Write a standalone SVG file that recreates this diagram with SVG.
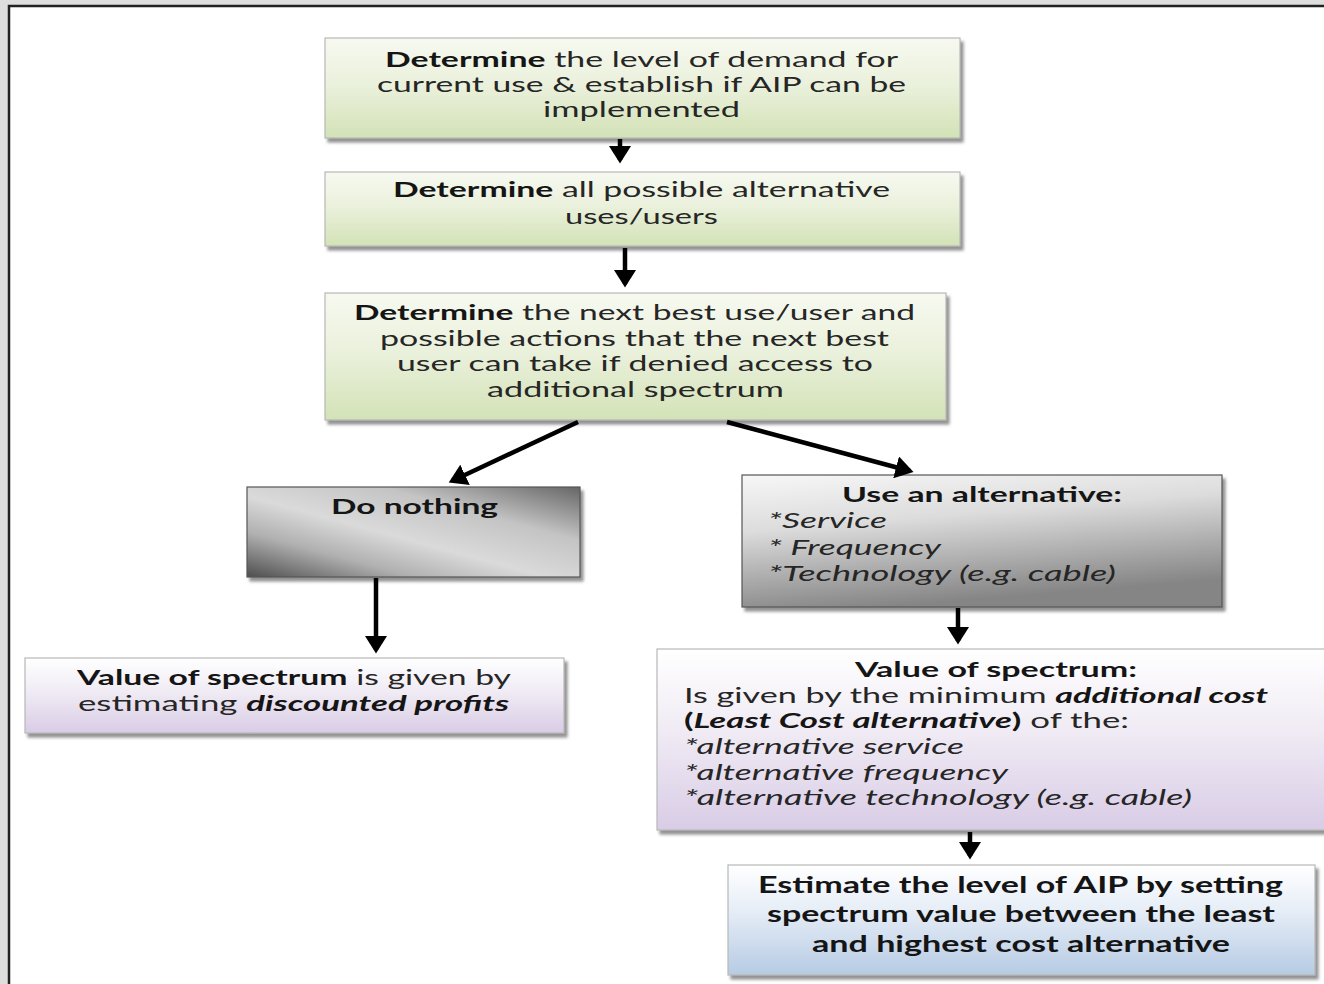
<svg xmlns="http://www.w3.org/2000/svg" width="1324" height="984" viewBox="0 0 1324 984">
<style>
text{font-family:Lato,"Open Sans","Liberation Sans",sans-serif;font-size:21px;fill:#262626;}
.c{text-anchor:middle;}
.b{font-weight:bold;fill:#151515;}
.i{font-style:italic;}
.box{stroke:#b8b8b8;stroke-width:1.2;filter:url(#sh);}
.gbox{stroke:#555;stroke-width:1.2;filter:url(#sh);}
.conn line{stroke:#000;stroke-width:4.5;marker-end:url(#ah);}
</style>
<defs>
<filter id="sh" x="-5%" y="-10%" width="115%" height="130%">
<feDropShadow dx="3" dy="4" stdDeviation="1.5" flood-color="#777" flood-opacity="0.8"/>
</filter>
<linearGradient id="green" x1="0" y1="0" x2="0" y2="1">
<stop offset="0" stop-color="#f7f9f0"/>
<stop offset="0.5" stop-color="#e9f0da"/>
<stop offset="1" stop-color="#d3e2b6"/>
</linearGradient>
<linearGradient id="lav" x1="0" y1="0" x2="0" y2="1">
<stop offset="0" stop-color="#ffffff"/>
<stop offset="0.45" stop-color="#f0ebf4"/>
<stop offset="1" stop-color="#d9cce6"/>
</linearGradient>
<linearGradient id="blue" x1="0" y1="0" x2="0" y2="1">
<stop offset="0" stop-color="#ffffff"/>
<stop offset="0.4" stop-color="#e7eef7"/>
<stop offset="1" stop-color="#b6cbe4"/>
</linearGradient>
<linearGradient id="gray1" x1="1" y1="0" x2="0" y2="1">
<stop offset="0" stop-color="#666"/>
<stop offset="0.3" stop-color="#c4c4c4"/>
<stop offset="0.55" stop-color="#dadada"/>
<stop offset="0.75" stop-color="#b0b0b0"/>
<stop offset="1" stop-color="#4e4e4e"/>
</linearGradient>
<linearGradient id="gray2" x1="0" y1="0" x2="0.3" y2="1">
<stop offset="0" stop-color="#f7f7f7"/>
<stop offset="0.4" stop-color="#dcdcdc"/>
<stop offset="0.75" stop-color="#a9a9a9"/>
<stop offset="1" stop-color="#858585"/>
</linearGradient>
<marker id="ah" markerWidth="5" markerHeight="5" refX="3.2" refY="2.5" orient="auto" markerUnits="strokeWidth">
<path d="M0,0 L4,2.5 L0,5 Z" fill="#000"/>
</marker>
</defs>

<rect x="0" y="0" width="1324" height="984" fill="#dedede"/>
<rect x="9" y="6" width="1320" height="985" fill="#fff" stroke="#222" stroke-width="2.5"/>

<g id="n1">
<rect class="box" x="325" y="38" width="635" height="100" fill="url(#green)"/>
<text class="c" x="641.5" y="67" textLength="513" lengthAdjust="spacingAndGlyphs"><tspan class="b">Determine</tspan> the level of demand for</text>
<text class="c" x="641.5" y="92" textLength="529" lengthAdjust="spacingAndGlyphs">current use &amp; establish if AIP can be</text>
<text class="c" x="641.5" y="117" textLength="197" lengthAdjust="spacingAndGlyphs">implemented</text>
</g>

<g id="n2">
<rect class="box" x="325" y="172" width="635" height="74" fill="url(#green)"/>
<text class="c" x="641.5" y="197" textLength="497" lengthAdjust="spacingAndGlyphs"><tspan class="b">Determine</tspan> all possible alternative</text>
<text class="c" x="641.5" y="224" textLength="153" lengthAdjust="spacingAndGlyphs">uses/users</text>
</g>

<g id="n3">
<rect class="box" x="325" y="293" width="621" height="127" fill="url(#green)"/>
<text class="c" x="634.5" y="320" textLength="561" lengthAdjust="spacingAndGlyphs"><tspan class="b">Determine</tspan> the next best use/user and</text>
<text class="c" x="634.5" y="346" textLength="509" lengthAdjust="spacingAndGlyphs">possible actions that the next best</text>
<text class="c" x="635" y="371" textLength="476" lengthAdjust="spacingAndGlyphs">user can take if denied access to</text>
<text class="c" x="635.5" y="397" textLength="297" lengthAdjust="spacingAndGlyphs">additional spectrum</text>
</g>

<g id="n4">
<rect class="gbox" x="247" y="487" width="333" height="90" fill="url(#gray1)"/>
<text class="c b" x="414.5" y="514" textLength="167" lengthAdjust="spacingAndGlyphs">Do nothing</text>
</g>

<g id="n5">
<rect class="gbox" x="742" y="475" width="480" height="132" fill="url(#gray2)"/>
<text class="c b" x="982" y="502" textLength="280" lengthAdjust="spacingAndGlyphs">Use an alternative:</text>
<text class="i" x="768" y="528" textLength="119" lengthAdjust="spacingAndGlyphs">*Service</text>
<text class="i" x="768" y="555" textLength="173" lengthAdjust="spacingAndGlyphs">* Frequency</text>
<text class="i" x="768" y="581" textLength="348" lengthAdjust="spacingAndGlyphs">*Technology (e.g. cable)</text>
</g>

<g id="n6">
<rect class="box" x="25" y="658" width="539" height="75" fill="url(#lav)"/>
<text class="c" x="294" y="685" textLength="434" lengthAdjust="spacingAndGlyphs"><tspan class="b">Value of spectrum</tspan> is given by</text>
<text class="c" x="293.5" y="711" textLength="431" lengthAdjust="spacingAndGlyphs">estimating <tspan class="b i">discounted profits</tspan></text>
</g>

<g id="n7">
<rect class="box" x="657" y="649" width="680" height="181" fill="url(#lav)"/>
<text class="c b" x="996" y="677" textLength="282" lengthAdjust="spacingAndGlyphs">Value of spectrum:</text>
<text x="684" y="703" textLength="584" lengthAdjust="spacingAndGlyphs">Is given by the minimum <tspan class="b i">additional cost</tspan></text>
<text x="684" y="728" textLength="445" lengthAdjust="spacingAndGlyphs"><tspan class="b">(</tspan><tspan class="b i">Least Cost alternative</tspan><tspan class="b">)</tspan> of the:</text>
<text class="i" x="684" y="754" textLength="280" lengthAdjust="spacingAndGlyphs">*alternative service</text>
<text class="i" x="684" y="780" textLength="324" lengthAdjust="spacingAndGlyphs">*alternative frequency</text>
<text class="i" x="684" y="805" textLength="508" lengthAdjust="spacingAndGlyphs">*alternative technology (e.g. cable)</text>
</g>

<g id="n8">
<rect class="box" x="728" y="865" width="587" height="110" fill="url(#blue)"/>
<text class="c b" x="1020.5" y="893" textLength="525" lengthAdjust="spacingAndGlyphs" style="font-size:23px">Estimate the level of AIP by setting</text>
<text class="c b" x="1021" y="922" textLength="508" lengthAdjust="spacingAndGlyphs" style="font-size:23px">spectrum value between the least</text>
<text class="c b" x="1021" y="952" textLength="418" lengthAdjust="spacingAndGlyphs" style="font-size:23px">and highest cost alternative</text>
</g>

<g id="connectors" class="conn">
<line x1="620" y1="139" x2="620" y2="160"/>
<line x1="625" y1="248" x2="625" y2="284"/>
<line x1="578" y1="422" x2="452" y2="481"/>
<line x1="727" y1="422" x2="910" y2="471"/>
<line x1="376" y1="578" x2="376" y2="650"/>
<line x1="958" y1="608" x2="958" y2="641"/>
<line x1="970" y1="832" x2="970" y2="856"/>
</g>
</svg>
